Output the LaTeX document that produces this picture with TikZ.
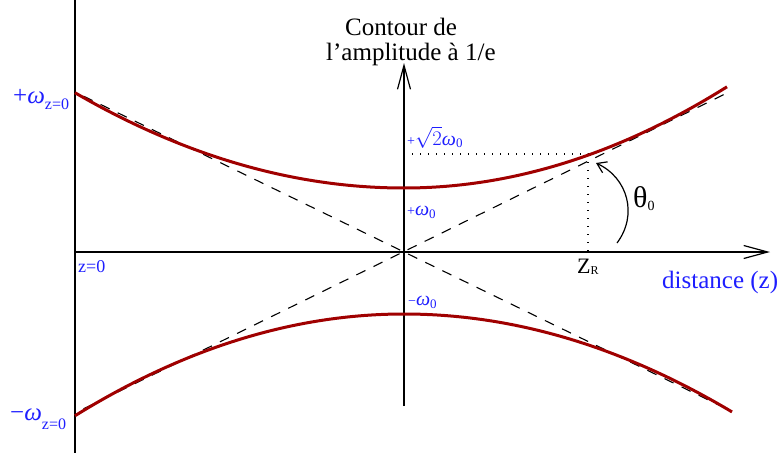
\documentclass[tikz,border=0pt]{standalone}
\usepackage{fontspec}
\setmainfont{Liberation Serif}
\usetikzlibrary{arrows.meta}
\definecolor{beam}{RGB}{160,0,0}
\definecolor{lbl}{RGB}{30,30,255}
\begin{document}
\begin{tikzpicture}[x=1pt,y=-1pt,
  axis/.style={line width=1.3pt},
  barb/.style={-{Straight Barb[length=24pt,width=13pt,line width=1.2pt]}},
  beamline/.style={beam,line width=3pt},
  asym/.style={line width=1.1pt,dash pattern=on 10pt off 9pt,dash phase=9.5pt},
  dotline/.style={line width=1.4pt,dash pattern=on 1.4pt off 6.6pt},
  lab/.style={inner sep=0pt,anchor=base west,text=lbl},
  txt/.style={inner sep=0pt,anchor=base west}]
\useasboundingbox (0,0) rectangle (780,453);
% coordinates
\coordinate (O) at (404,252);
\coordinate (L0) at (75,0);
\coordinate (L1) at (75,453);
\coordinate (Xstart) at (75,252);
\coordinate (Xend) at (770,252);
\coordinate (Ybot) at (404,406);
\coordinate (Ytop) at (404,63);
\coordinate (A1) at (75,92);
\coordinate (A2) at (727,409);
\coordinate (B1) at (75,413);
\coordinate (B2) at (725,94);
\coordinate (S) at (404,154);
\coordinate (P) at (588,154);
\coordinate (ZR) at (588,252);
\coordinate (T1) at (617,243);
\coordinate (T2) at (596,163);
% axes
\draw[axis] (L0) -- (L1);
\draw[axis,barb] (Xstart) -- (Xend);
\draw[axis,barb] (Ybot) -- (Ytop);
% asymptotes
\draw[asym] (A1) -- (A2);
\draw[asym] (B1) -- (B2);
% Rayleigh construction
\draw[dotline] (S) -- (P) -- (ZR);
% beam contour
\draw[beamline] plot[domain=-329:0,samples=60] ({404+\x},{188-8.8*(\x/100)*(\x/100)})
  -- plot[domain=0:323,samples=60] ({404+\x},{188-9.7*(\x/100)*(\x/100)});
\draw[beamline] plot[domain=-329:0,samples=60] ({404+\x},{314+9.4*(\x/100)*(\x/100)})
  -- plot[domain=0:328,samples=60] ({404+\x},{314+9.1*(\x/100)*(\x/100)});
% angle arrow
\draw[line width=1.2pt,-{Straight Barb[length=9pt,width=12pt,line width=1.2pt]}] (T1) .. controls (638,215) and (628,178) .. (T2);
% labels
\node[inner sep=0pt,anchor=north west,align=left,font=\fontsize{25}{25}\selectfont] (title) at (326,18) {\hspace*{19pt}Contour de\\l’amplitude à 1/e};
\node[lab,font=\fontsize{25}{25}\selectfont] (dz) at (662,288) {distance (z)};
\node[txt,font=\fontsize{22}{22}\selectfont] (zr) at (577,273) {Z\raisebox{-1pt}{\fontsize{12}{12}\selectfont R}};
\node[txt,font=\fontsize{30}{30}\selectfont] (th) at (633,207) {θ\raisebox{-3pt}{\fontsize{14}{14}\selectfont 0}};
\node[lab,font=\fontsize{25}{25}\selectfont] (wp) at (13,103) {+\textit{ω}\raisebox{-6pt}{\fontsize{16}{16}\selectfont z=0}};
\node[lab,font=\fontsize{25}{25}\selectfont] (wm) at (10,420) {−\textit{ω}\raisebox{-9pt}{\fontsize{16}{16}\selectfont z=0}};
\node[lab,font=\fontsize{18}{18}\selectfont] (z0) at (78,272) {z=0};
\node[lab] (sq) at (407,145) {{\fontsize{14}{14}\selectfont +}{\fontsize{20}{20}\selectfont $\sqrt{2}$\textit{ω}}\raisebox{-2pt}{\fontsize{13}{13}\selectfont 0}};
\node[lab] (wz) at (407,215) {{\fontsize{14}{14}\selectfont +}{\fontsize{20}{20}\selectfont\textit{ω}}\raisebox{-3pt}{\fontsize{13}{13}\selectfont 0}};
\node[lab] (wn) at (408,305) {{\fontsize{14}{14}\selectfont −}{\fontsize{20}{20}\selectfont\textit{ω}}\raisebox{-3pt}{\fontsize{13}{13}\selectfont 0}};
\end{tikzpicture}
\end{document}
